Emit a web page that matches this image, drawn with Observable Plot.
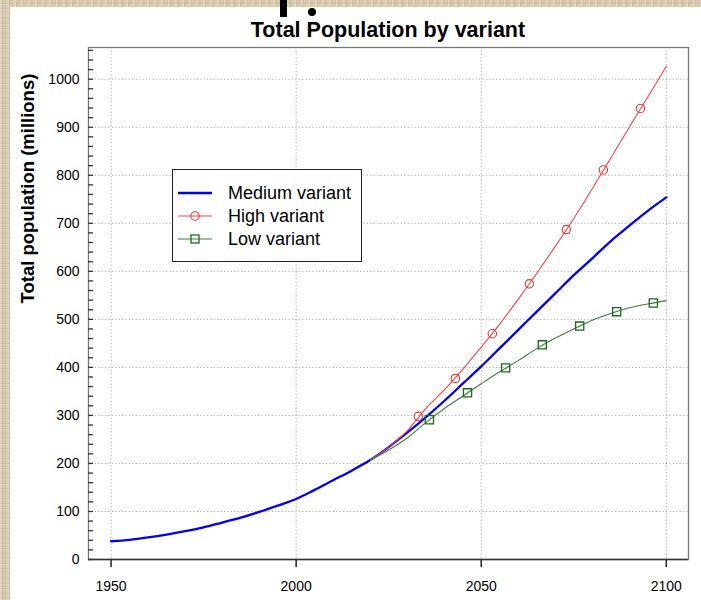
<!DOCTYPE html>
<html>
<head>
<meta charset="utf-8">
<script src="https://cdn.jsdelivr.net/npm/d3@7"></script>
<script src="https://cdn.jsdelivr.net/npm/@observablehq/plot@0.6"></script>
<style>
html, body { margin: 0; padding: 0; }
body {
  width: 701px; height: 600px; position: relative; overflow: hidden;
  background-color: #d6c8aa;
  background-image:
    repeating-linear-gradient(90deg, rgba(255,255,255,0.22) 0 2px, rgba(120,100,60,0.10) 2px 3px, transparent 3px 7px),
    repeating-linear-gradient(0deg, rgba(255,255,255,0.18) 0 1px, rgba(120,100,60,0.10) 1px 2px, transparent 2px 5px);
  font-family: "Liberation Sans", Arial, sans-serif;
}
#panel { position: absolute; left: 10px; top: 7px; width: 691px; height: 593px; background: #fff; }
#chart { position: absolute; left: 0; top: 40px; }
#title { position: absolute; left: 88px; width: 600px; top: 18px; line-height: 24px; text-align: center;
  font-weight: bold; font-size: 21.5px; color: #000; }
#bar { position: absolute; left: 280px; top: 0px; width: 7px; height: 17px; background: #000; }
#dot { position: absolute; left: 308px; top: 8px; width: 8px; height: 8px; border-radius: 50%; background: #000; }
#legend { position: absolute; left: 172px; top: 169px; width: 188px; height: 91px; background: #fff;
  border: 1px solid #222; }
.row { position: absolute; left: 4px; height: 20px; display: flex; align-items: center; }
.row svg { width: 36px; height: 20px; }
.row span { margin-left: 15px; font-size: 18px; color: #000; white-space: nowrap; }
</style>
</head>
<body>
<div id="panel"></div>
<div id="bar"></div><div id="dot"></div>
<div id="chart"></div>
<div id="title"></div>
<div id="legend"></div>
<script>
// ---- data ----
const chartTitle = "Total Population by variant";
const yLabel = "Total population (millions)";
const seriesNames = ["Medium variant", "High variant", "Low variant"];

const years = [1950,1955,1960,1965,1970,1975,1980,1985,1990,1995,2000,2005,2010,2015,2020,2025,2030,2035,2040,2045,2050,2055,2060,2065,2070,2075,2080,2085,2090,2095,2100];
const medium = [38,41,46,52,59,67,77,87,99,112,126,145,165,185,207,234,264,296,330,366,402,440,478,516,554,592,627,663,695,726,754];

const projYears = [2020,2025,2030,2035,2040,2045,2050,2055,2060,2065,2070,2075,2080,2085,2090,2095,2100];
const high = [207,234,268,314,353,396,442,490,542,596,652,710,772,836,900,963,1027];
const low  = [207,228,253,285,314,340,366,391,414,439,461,480,498,512,524,532,539];

const highMarkerYears  = [2033,2043,2053,2063,2073,2083,2093];
const highMarkerValues = [298,377,470,574,687,811,939];
const lowMarkerYears   = [2036,2046.3,2056.6,2066.5,2076.6,2086.6,2096.5];
const lowMarkerValues  = [291,347,399,447,486,516,534];

const xTicks = [1950,2000,2050,2100];
const yTicks = [0,100,200,300,400,500,600,700,800,900,1000];
const yMinorTicks = d3.range(0, 1061, 20);

const colors = { medium: "#0000ff", high: "#ff4040", highMark: "#f03030", low: "#3d7d3d", lowMark: "#1a6b1a" };

// ---- tables ----
const medData = years.map((x, i) => ({ x, y: medium[i] }));
const highData = projYears.map((x, i) => ({ x, y: high[i] }));
const lowData = projYears.map((x, i) => ({ x, y: low[i] }));
const highMarks = highMarkerYears.map((x, i) => ({ x, y: highMarkerValues[i] }));
const lowMarks = lowMarkerYears.map((x, i) => ({ x, y: lowMarkerValues[i] }));

const grid = { stroke: "#a8a8a8", strokeOpacity: 1, strokeDasharray: "1.2,2.2", strokeWidth: 1 };

const plot = Plot.plot({
  width: 701, height: 560,
  marginLeft: 88, marginRight: 13, marginTop: 7, marginBottom: 41,
  style: { background: "transparent", fontFamily: "'Liberation Sans', Arial, sans-serif", color: "#000" },
  x: { domain: [1943.9, 2106] },
  y: { domain: [0, 1066] },
  marks: [
    Plot.gridX(xTicks, grid),
    Plot.gridY(yTicks, grid),
    Plot.frame({ stroke: "#777", strokeWidth: 1.3 }),
    Plot.ruleY([0], { stroke: "#333", strokeWidth: 1.3 }),
    Plot.axisX(xTicks, { tickSize: 8, tickPadding: 14, fontSize: 14, tickFormat: d => String(d), stroke: "#222", strokeWidth: 1.5, label: null }),
    Plot.axisY(yMinorTicks, { tickSize: 5, dx: 5, text: null, label: null, stroke: "#333", strokeWidth: 1.3 }),
    Plot.axisY(yTicks, { tickSize: 0, tickPadding: 9, fontSize: 14, tickFormat: d => String(d), label: null }),
    Plot.text([yLabel], { text: d => d, frameAnchor: "left", rotate: -90, dx: -60, fontSize: 18.5, fontWeight: "bold" }),
    Plot.line(medData, { x: "x", y: "y", stroke: colors.medium, strokeWidth: 2.3, curve: "monotone-x" }),
    Plot.line(highData, { x: "x", y: "y", stroke: colors.high, strokeWidth: 1.1, curve: "monotone-x" }),
    Plot.dot(highMarks, { x: "x", y: "y", r: 4.2, stroke: colors.highMark, fill: "none", strokeWidth: 1.1 }),
    Plot.line(lowData, { x: "x", y: "y", stroke: colors.low, strokeWidth: 1.1, curve: "monotone-x" }),
    Plot.dot(lowMarks, { x: "x", y: "y", r: 4.6, symbol: "square", stroke: colors.lowMark, fill: "none", strokeWidth: 1.3 })
  ]
});
document.getElementById("chart").appendChild(plot);
document.getElementById("title").textContent = chartTitle;

// ---- legend ----
const legend = document.getElementById("legend");
const rowTops = [13, 36, 59];
const samples = [
  `<line x1="1" x2="35" y1="10" y2="10" stroke="${colors.medium}" stroke-width="2.3"/>`,
  `<line x1="1" x2="35" y1="10" y2="10" stroke="${colors.high}" stroke-width="1.1"/><circle cx="18" cy="10" r="4.2" fill="none" stroke="${colors.highMark}" stroke-width="1.1"/>`,
  `<line x1="1" x2="35" y1="10" y2="10" stroke="${colors.low}" stroke-width="1.1"/><rect x="14" y="6" width="8" height="8" fill="none" stroke="${colors.lowMark}" stroke-width="1.3"/>`
];
seriesNames.forEach((name, i) => {
  const row = document.createElement("div");
  row.className = "row";
  row.style.top = rowTops[i] + "px";
  row.innerHTML = `<svg viewBox="0 0 36 20">${samples[i]}</svg><span>${name}</span>`;
  legend.appendChild(row);
});
</script>
</body>
</html>
